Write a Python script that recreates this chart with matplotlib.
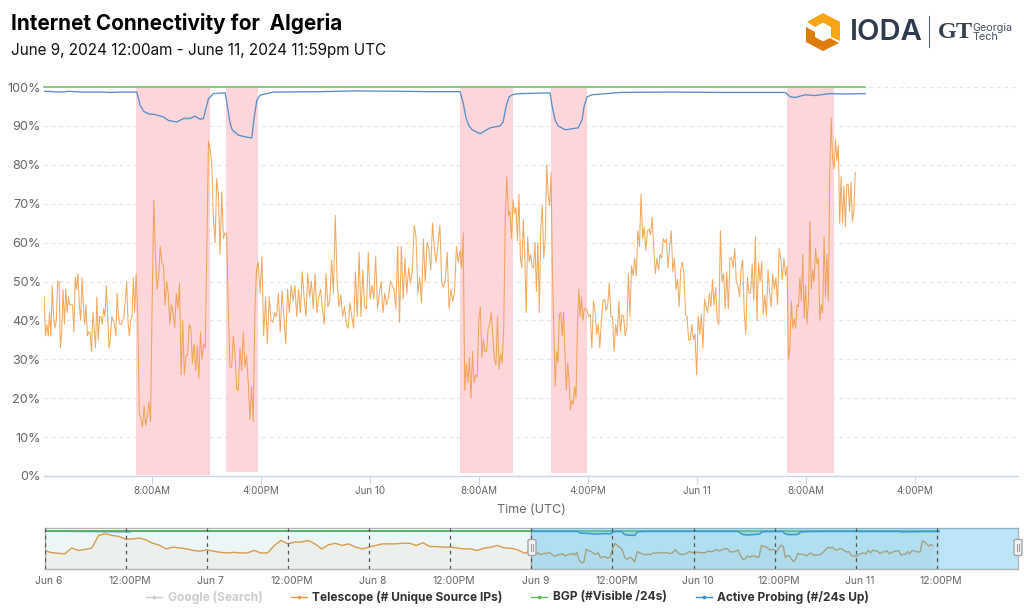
import numpy as np
import matplotlib
matplotlib.use("Agg")
import matplotlib.pyplot as plt
from matplotlib.patches import Polygon, FancyBboxPatch

plt.rcParams['font.family'] = ['Inter', 'DejaVu Sans']

# hours since Jun 9 00:00 UTC
seg_breaks = [0.22, 6.95, 12.37, 15.89, 30.67, 34.55, 37.33, 39.97, 54.61, 58.05, 59.6]
tel_1 = [46,36,39,36,42,36,49,41,38,40,50,50,33,37,48,39,48,42,46,44,44,44,37,51,48,52,44,40,51,44,39,44,36,37,37,32,42,38,33,46,35,41,41,39,43,41,49,41,33,35,41,40,39,36,47,41,39,39,40,41,45,50,40,36,40,41,51,42]
tel_2 = [52,42,16,15,12.5,18,13,15.5,19,14,45,71,57,48,51,59,55,54,44,50,47,39,44,42,38,47,43,49.5,26,40,26,31,31,39,38,29,34,27,33.5,25,37,30,34,33,60,86]
tel_3 = [84,80,66,60,76.5,72.5,57,73,61,62.5,62,42,28,28,36,31.5,22.5,22,33,27,37,28,31,24,14.5,23,14,42.5,53]
tel_4 = [55,47,56.5,36,46,34,46,40,39.5,42,41,47,37,47.5,41,34,48,42,49,45,49,41,48,42,52.5,46,41,52,46,50,43,52,42,46,48,43,39,52,43.5,45,55.5,47,67,50,43.5,46.5,41,43.5,39,38,44.5,41,38,52.5,41,57.5,41,53,43.5,43,57.5,45.5,49,45.5,56.5,43,47,50,42,47,44,46,50,49,48,43,59,39.5,59,45.5,56,47,53.5,49.5,53,64.5,61.5,47,51,44.5,61,50,60,58.5,53,65,58.5,55,59.5,64.5,49.5,48.5,51,57.5,43,48,45,47.5,59,55]
tel_5 = [58,53.5,62.5,22,29,24,30.5,20,32,24,26,25.5,40,43.5,30.5,35,32,32,38,39,42,36,30,28.5,41,27.5,31.5,29,38,67,77,67,68,61]
tel_6 = [71,67.5,69,60.5,72.5,56,53.5,66,56.5,42,61.5,55,57,54,53.5,60,47.5,60,42,64,69.5,56,60.5,80,72.5,69.5]
tel_7 = [78,52,38,23,32,29,41.5,42,36,42,32,22,29,24.5,17,19.5,18.5,23,20,38,48,41,46,40,43,43]
tel_8 = [42.5,41,41.5,33,45,42.5,36.5,39,33,40,45,45.5,42.5,44,49.5,41,41,32,39,36,45,37,41.5,41,36,38,52,41,54,51.5,56,51.5,63,59,72.5,61,64,58,63,63.5,62,66.5,58.5,52,56,53,57,56,61,60,61,53.5,59,63,52.5,56,48,50.5,43.5,53,55,52,41.5,41,35,35,39,35,36.5,26,41,36.5,41.5,33,45.5,43.5,42,47,43.5,50.5,44,48.5,40,39,63,50,52,43,52.5,43,56,56,53.5,58.5,50,49,46,53,55.5,42,36.5,51,47,47,54.5,45,61.5,40,55,50,55,41.5,46.5,41,53,47,43.5,52,48,51,44,58.5,56,50.5,56,51.5]
tel_9 = [54,30,33,45,38,40.5,38,44,43.5,51,45,57,40.5,49,39,45,65.5,48,53,50,58.5,54.5,56,40,44,42,61.5,46,57,45,79,92,81]
tel_10 = [79,86.5,81,85,65,77,65,74.5,64,75,75,68,75.5,65.5,68,78]
tel_segments = [tel_1, tel_2, tel_3, tel_4, tel_5, tel_6, tel_7, tel_8, tel_9, tel_10]

blue_hours = [.22,.8,1.39,2.1,2.85,3.6,4.32,5.1,5.78,7.0,7.13,7.25,7.49,7.86,8.35,8.96,9.32,9.93,10.42,10.91,11.27,11.64,11.88,12.03,12.25,12.61,13.47,13.6,13.84,14.0,14.45,15.06,15.42,15.59,15.79,16.03,16.52,17.0,20.42,23,26.28,28.5,30.67,30.89,31.11,31.33,31.55,32.14,32.87,33.6,33.82,34.04,34.26,34.55,35.07,37.26,37.41,37.63,37.85,38.36,39.31,39.6,39.75,39.97,40.34,42.39,46,50,54.47,54.83,55.2,55.93,56.66,57.76,59,60.32]
blue_vals = [98.9,98.8,98.7,98.9,98.7,98.7,98.7,98.6,98.7,98.7,97,95.3,93.8,93.1,92.9,92.3,91.4,91,91.9,91.9,92.5,91.7,91.9,94,97,98.3,98.5,95.7,90.6,88.9,87.6,87.1,86.9,92,96.6,97.9,98.3,98.7,98.8,99,98.9,98.8,98.8,96,92,90,89,88,89.5,90,91,95,97.5,98.1,98.3,98.5,95,91.5,90,89,89.5,91.5,95,97.5,98,98.6,98.7,98.6,98.6,97.5,97.3,98,97.8,98.3,98.2,98.3]
green_hours = [0.22, 60.32]
green_vals = [100, 100]

band_start = [6.95, 13.54, 30.67, 37.33, 54.61]
band_end = [12.37, 15.89, 34.55, 39.97, 58.05]
band_low = [0.2, 1.0, 0.7, 0.7, 0.7]

y_ticks = [0,10,20,30,40,50,60,70,80,90,100]
x_ticks = [8,16,24,32,40,48,56,64]
x_labels = ['8:00AM','4:00PM','Jun 10','8:00AM','4:00PM','Jun 11','8:00AM','4:00PM']
mini_ticks = [-72,-60,-48,-36,-24,-12,0,12,24,36,48,60]
mini_labels = ['Jun 6','12:00PM','Jun 7','12:00PM','Jun 8','12:00PM','Jun 9','12:00PM','Jun 10','12:00PM','Jun 11','12:00PM']
# hourly overview of the three days before the main window
mini_prior = [54,47,45,43,62,54,57,62,102,107.5,102,99,90,91,93.5,88,77,71,59,64.5,62,59,54,51.5,56,51.5,48,46,48,46,46,54,46,46,70,86,75,81,81,86,75,59,72,77,70,75,64.5,59,64.5,70,75,75,75,77,77,70,78.5,66.5,66.5,64.5,64.5,62,59,59,54,61,64.5,70,62,61,56,45,54]

W, H = 1024, 614
fig = plt.figure(figsize=(W/100, H/100), dpi=100)
def px_axes(l, t, r, b):
    return fig.add_axes([l/W, 1-b/H, (r-l)/W, (b-t)/H])
def calib(h):
    # small reading correction between picture hours and the axis ticks
    return (13.66*np.asarray(h, float) - 1.9)/13.625

tel_x = []
for i, seg in enumerate(tel_segments):
    tel_x.append(np.linspace(seg_breaks[i], seg_breaks[i+1], len(seg), endpoint=(i == len(tel_segments)-1)))
tel_x = calib(np.concatenate(tel_x))
tel_y = np.concatenate([np.asarray(s, float) for s in tel_segments])
blue_x = calib(blue_hours)
green_x = calib(green_hours)

# ---- main chart
ax = px_axes(44, 87, 1018, 476)
ax.set_xlim(0.07, 71.56)
ax.set_ylim(0, 100)
for s in ['top','right','left']:
    ax.spines[s].set_visible(False)
ax.spines['bottom'].set_color('#ccd6eb')
ax.spines['bottom'].set_linewidth(1)
ax.set_yticks(y_ticks)
ax.set_yticklabels([f'{v}%' for v in y_ticks], fontsize=9.1, color='#666666')
ax.set_xticks(x_ticks)
ax.set_xticklabels(x_labels, fontsize=7.1, color='#666666')
ax.tick_params(axis='y', length=0, pad=2.5)
ax.tick_params(axis='x', length=5.5, width=0.8, color='#ccd6eb', pad=1.5)
ax.set_xlabel('Time (UTC)', fontsize=9, color='#666666', labelpad=6)
ax.grid(axis='y', color='#e6e6e6', lw=0.9, ls=(0, (3, 3)))
ax.set_axisbelow(True)
for s, e, low in zip(calib(band_start), calib(band_end), band_low):
    ax.bar((s+e)/2, 100-low, width=e-s, bottom=low, color='#fdd6dc', lw=0, zorder=1.5)
ax.plot(tel_x, tel_y, color='#f09a42', lw=0.75, alpha=0.85, zorder=3)
ax.plot(green_x, green_vals, color='#66c05f', lw=1.1, zorder=4, clip_on=False)
ax.plot(blue_x, blue_vals, color='#5b8fc9', lw=0.95, zorder=4)

# ---- navigator
mini = px_axes(44.5, 528, 1018, 569)
mini.set_xlim(-72, 72)
mini.set_ylim(-5.4, 125.8)
n3 = len(tel_y)//3
tel_x3 = tel_x[:n3*3].reshape(-1, 3).mean(axis=1)
tel_y3 = tel_y[:n3*3].reshape(-1, 3).mean(axis=1)
mini_x = np.concatenate([np.arange(-72, 1, 1.0), tel_x3])
mini_y = np.concatenate([mini_prior, tel_y3])
mini.fill_between(mini_x, -6, mini_y, color='#f0a050', alpha=0.06, lw=0)
mini.plot(mini_x, mini_y, color='#e89a42', lw=1.0)
mini.set_xticks([])
mini.set_yticks([])
for t, lab in zip(mini_ticks, mini_labels):
    mini.annotate(lab, (t, 0), xycoords=('data', 'axes fraction'), xytext=(2.9, -5), textcoords='offset points',
                  fontsize=7.5, color='#666666', ha='center', va='top', annotation_clip=False)
for s in mini.spines.values():
    s.set_color('#b5b5b5')
    s.set_linewidth(1)

top = mini.twinx()
top.set_ylim(-13, 109)
top.set_yticks([])
for s in top.spines.values():
    s.set_visible(False)
top.fill_between(blue_x, -13, blue_vals, color='#3f9fb0', alpha=0.09, lw=0)
top.fill_between(blue_x, blue_vals, 100, color='#66c05f', alpha=0.3, lw=0)
top.fill_between([-72, 0], -13, 99.5, color='#3f9fb0', alpha=0.09, lw=0)
top.plot([-72, -60, -59.5, -59, 0], [99.8, 98.2, 97.5, 99.5, 99.5], color='#3a8fd0', lw=1.2)
top.plot([-72, -60, 0], [100.5, 100.5, 99.8], color='#5cb85c', lw=1.2)
top.plot(green_x, green_vals, color='#5cb85c', lw=1.1)
top.plot(blue_x, blue_vals, color='#3a8fd0', lw=1.1)
top.axvspan(0, 72, color='#37b3ea', alpha=0.33, lw=0, zorder=5)
top.axvline(0, color='#8fa9b5', lw=1, zorder=5.5)
for t in mini_ticks:
    top.axvline(t, color='#555555', lw=0.9, ls=(0, (3, 3)), zorder=6)

# ---- overlay in pixel coordinates: handles, legend, header, logo
ov = fig.add_axes([0, 0, 1, 1], zorder=10)
ov.set_xlim(0, W)
ov.set_ylim(H, 0)
ov.axis('off')
ov.patch.set_alpha(0)

for hx in (532, 1018):
    ov.add_patch(FancyBboxPatch((hx-4, 539.5), 8, 16, boxstyle='round,pad=0,rounding_size=1.5', fc='#f2f2f2', ec='#a5a5a5', lw=1))
    ov.plot([hx-1, hx-1], [544, 551], color='#a0a0a0', lw=0.8)
    ov.plot([hx+1, hx+1], [544, 551], color='#a0a0a0', lw=0.8)

legend_items = [('Google (Search)', 146, 168, '#cccccc', '#cccccc'),
                ('Telescope (# Unique Source IPs)', 291, 312, '#ef9a3f', '#333333'),
                ('BGP (#Visible /24s)', 531, 553, '#5cb85c', '#333333'),
                ('Active Probing (#/24s Up)', 696, 717, '#3a8fd0', '#333333')]
for label, x0, xt, col, tc in legend_items:
    ov.plot([x0, x0+16], [597, 597], color=col, lw=1)
    ov.plot([x0+8], [597], marker='o', ms=1.6, color=col)
    ov.text(xt, 597, label, fontsize=8.6, fontweight='bold', color=tc, va='center', ha='left')

ov.text(11, 24, 'Internet Connectivity for  Algeria', fontsize=14.9, fontweight='bold', color='#000000', va='center')
ov.text(11, 50, 'June 9, 2024 12:00am - June 11, 2024 11:59pm UTC', fontsize=11, color='#111111', va='center')

light = [(807,22),(823,13),(840,22),(840,41),(831,37),(831,27),(823,22.5),(815,27)]
dark = [(806,27),(815,32),(815,37),(823,41.5),(830,38),(839,43),(823,51),(806,42)]
ov.add_patch(Polygon(light, closed=True, fc='#f7a416', ec='none'))
ov.add_patch(Polygon(dark, closed=True, fc='#dd7c06', ec='none'))
ov.text(850, 33, 'IODA', fontsize=21, fontweight='semibold', color='#2f3b4c', va='center', ha='left')
ov.plot([929, 929], [16, 47], color='#5a6472', lw=0.8)
ov.text(938, 33, 'GT', fontsize=17.5, fontweight='bold', family='Liberation Serif', color='#37404e', va='center', ha='left')
ov.text(972, 28, 'Georgia', fontsize=7.8, color='#4a5362', va='center', ha='left')
ov.text(972, 37, 'Tech', fontsize=7.8, color='#4a5362', va='center', ha='left')

fig.savefig('out.png', dpi=100)
